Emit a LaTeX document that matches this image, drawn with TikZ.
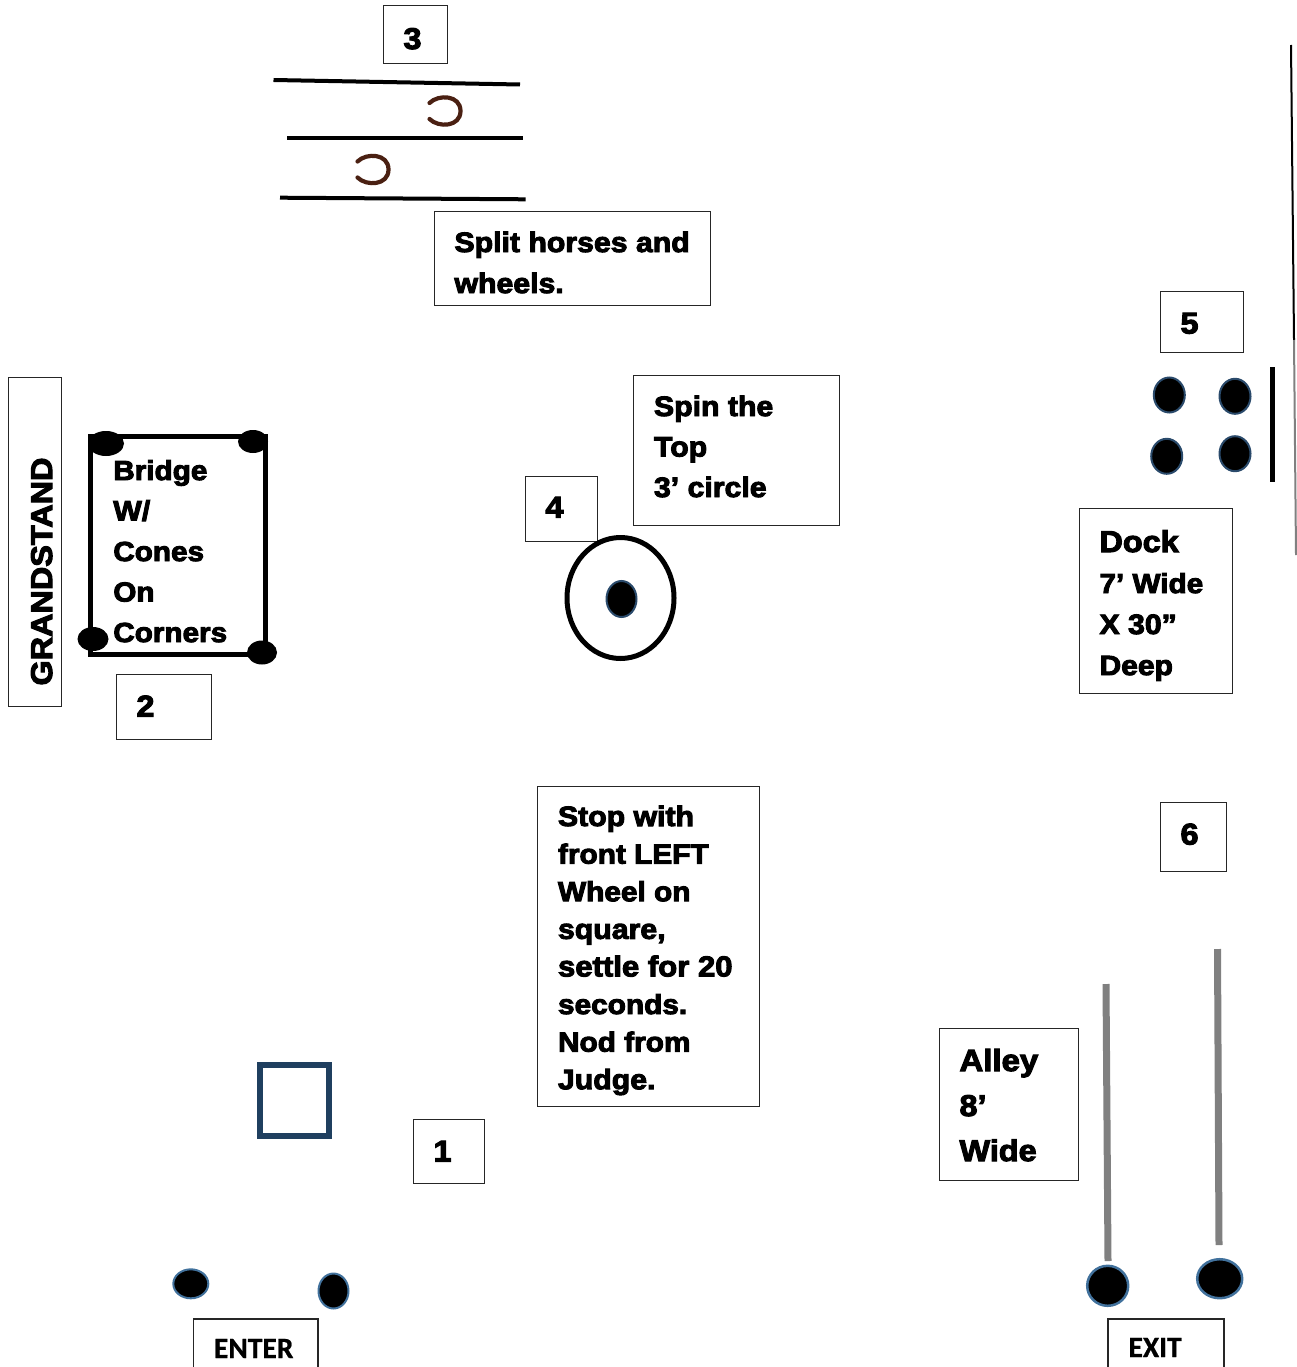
\documentclass[tikz,border=0pt]{standalone}
\usepackage{fontspec}
\usetikzlibrary{shapes.geometric}
\newfontfamily\blkfam{Liberation Sans}[FakeStretch=1.08,BoldFeatures={FakeBold=3.5}]
\newfontfamily\calfam{Carlito}[BoldFeatures={FakeBold=0.8}]
\newdimen\bW \newdimen\bS \newdimen\bI
\newcommand\tline[2][28]{\hbox to \bW{\hskip\bI\fontsize{#1}{#1}\selectfont\smash{#2}\hss}\kern\bS}
% width, height, first baseline, line spacing, lines
\newcommand\tblock[5]{\bW=#1pt \bS=#4pt \bI=20.5pt \vbox to #2pt{\offinterlineskip\kern#3pt #5\vss}}
\definecolor{conedark}{HTML}{2A4A6B}
\definecolor{coneblue}{HTML}{41719C}
\definecolor{squareblue}{HTML}{1F3F5F}
\definecolor{gray1}{HTML}{808080}
\definecolor{shoebrown}{HTML}{4A2012}
\tikzset{
  lbl/.style={draw=black!85,line width=1pt,inner sep=0pt,outer sep=0pt,anchor=north west,font=\blkfam\bfseries},
  plain/.style={inner sep=0pt,outer sep=0pt,anchor=north west,font=\blkfam\bfseries},
  callbl/.style={draw=black!85,line width=1.2pt,inner sep=0pt,outer sep=0pt,anchor=north west,font=\calfam\bfseries},
  cone/.style={ellipse,draw=#1,line width=2pt,fill=black,inner sep=0pt,outer sep=0pt},
  cone/.default={conedark},
  blackcone/.style={ellipse,fill=black,inner sep=0pt,outer sep=0pt},
  rail/.style={line width=4pt,black},
  pole/.style={line width=7pt,gray1},
  shoe/.pic={\draw[line width=4.2pt,shoebrown,line cap=round] (-15,-8) .. controls (-6,-17) and (16,-16) .. (16,0) .. controls (16,16) and (-6,17) .. (-15,8);}
}
\begin{document}
\begin{tikzpicture}[x=1pt,y=-1pt]
\useasboundingbox (0,0) rectangle (1296,1367);
% labelled boxes
\node[lbl] (n3) at (383,6) {\tblock{64}{58}{43}{0}{\tline[30]{3}}};
\node[lbl] (split) at (434,211) {\tblock{276}{94}{41}{41}{\tline{Split horses and}\tline{wheels.}}};
\node[lbl] (n5) at (1160,291) {\tblock{83}{61}{42.5}{0}{\tline[30]{5}}};
\node[lbl] (spin) at (633.5,375.5) {\tblock{206}{150}{40.5}{40.5}{\tline{Spin the}\tline{Top}\tline{3’ circle}}};
\node[lbl] (n4) at (525,476) {\tblock{72}{65}{41.5}{0}{\tline[30]{4}}};
\node[lbl] (dock) at (1079,508.5) {\tblock{153}{184.5}{43.5}{41}{\tline[30]{Dock}\tline[27.5]{7’ Wide}\tline{X 30”}\tline[27.8]{Deep}}};
\node[lbl,rotate=90,anchor=center] (grand) at (34.5,541.5) {\tblock{329}{53}{44}{0}{\tline[30]{GRANDSTAND}}};
\node[lbl] (n2) at (116,674) {\tblock{95}{65}{42.5}{0}{\tline[30]{2}}};
\node[lbl] (stop) at (537.5,786) {\tblock{222}{320}{40}{37.6}{\tline{Stop with}\tline[27.6]{front LEFT}\tline[27.6]{Wheel on}\tline{square,}\tline[28.8]{settle for 20}\tline[27.6]{seconds.}\tline[27.6]{Nod from}\tline{Judge.}}};
\node[lbl] (n6) at (1160,802) {\tblock{66}{69}{42.5}{0}{\tline[30]{6}}};
\node[lbl] (alley) at (939,1028.5) {\tblock{139}{151.5}{42.5}{45}{\tline[30.5]{Alley}\tline[30]{8’}\tline[30]{Wide}}};
\node[lbl] (n1) at (413,1119) {\tblock{71}{64}{42.5}{0}{\tline[30]{1}}};
\node[callbl] (enter) at (193.5,1319) {\tblock{124.5}{50}{39}{0}{\tline[29.5]{ENTER}}};
\node[callbl] (exit) at (1108,1319) {\tblock{116}{50}{38}{0}{\tline[29.5]{EXIT}}};
% bridge
\draw[line width=5pt,line join=miter] (90.5,436.5) rectangle (265.5,654);
\node[plain] (bridge) at (92.8,450) {\tblock{170}{200}{30}{40.5}{\tline[27.5]{Bridge}\tline{W/}\tline[27.5]{Cones}\tline[27.5]{On}\tline[27.5]{Corners}}};
\node[blackcone,minimum width=36pt,minimum height=25pt] (b1) at (106,443.5) {};
\node[blackcone,minimum width=30pt,minimum height=23pt] (b2) at (253,441.5) {};
\node[blackcone,minimum width=31pt,minimum height=24pt] (b3) at (93,639) {};
\node[blackcone,minimum width=30pt,minimum height=24pt] (b4) at (262,652.5) {};
% rails and horseshoes
\draw[rail] (273.5,80) -- (520,84.5);
\draw[rail] (287,137.7) -- (522.7,137.7);
\draw[rail] (280,197.7) -- (525.7,199.3);
\pic at (444.5,111) {shoe};
\pic at (372.5,169.5) {shoe};
% spin the top
\node[ellipse,draw,line width=5pt,fill=none,minimum width=107pt,minimum height=121pt,inner sep=0pt] (ring) at (620.5,598) {};
\node[cone,minimum width=30pt,minimum height=36pt] (pin) at (621.5,599) {};
% dock
\node[cone,minimum width=31pt,minimum height=35pt] (d1) at (1169.3,395) {};
\node[cone,minimum width=31pt,minimum height=35pt] (d2) at (1235,396.3) {};
\node[cone,minimum width=31pt,minimum height=35pt] (d3) at (1166.7,456.3) {};
\node[cone,minimum width=31pt,minimum height=35pt] (d4) at (1235,453.7) {};
\draw[line width=5.5pt] (1272.5,367) -- (1272.5,481.7);
\draw[line width=2pt] (1291,45) -- (1294,340);
\draw[line width=2pt,gray] (1294,340) -- (1296,555);
% alley
\draw[pole] (1106,984) -- (1108,1261);
\draw[pole] (1217.5,949) -- (1219,1245);
\node[cone=coneblue,line width=2.5pt,minimum width=41pt,minimum height=40pt] (a1) at (1107.7,1285.8) {};
\node[cone=coneblue,line width=2.5pt,minimum width=45pt,minimum height=39pt] (a2) at (1219.7,1278.7) {};
% square and entrance
\draw[squareblue,line width=6pt] (260,1064.5) rectangle (328.5,1135.5);
\node[cone=coneblue,minimum width=35pt,minimum height=29pt] (e1) at (190.8,1283.8) {};
\node[cone=coneblue,minimum width=30pt,minimum height=35pt] (e2) at (333.5,1291) {};
\end{tikzpicture}
\end{document}
